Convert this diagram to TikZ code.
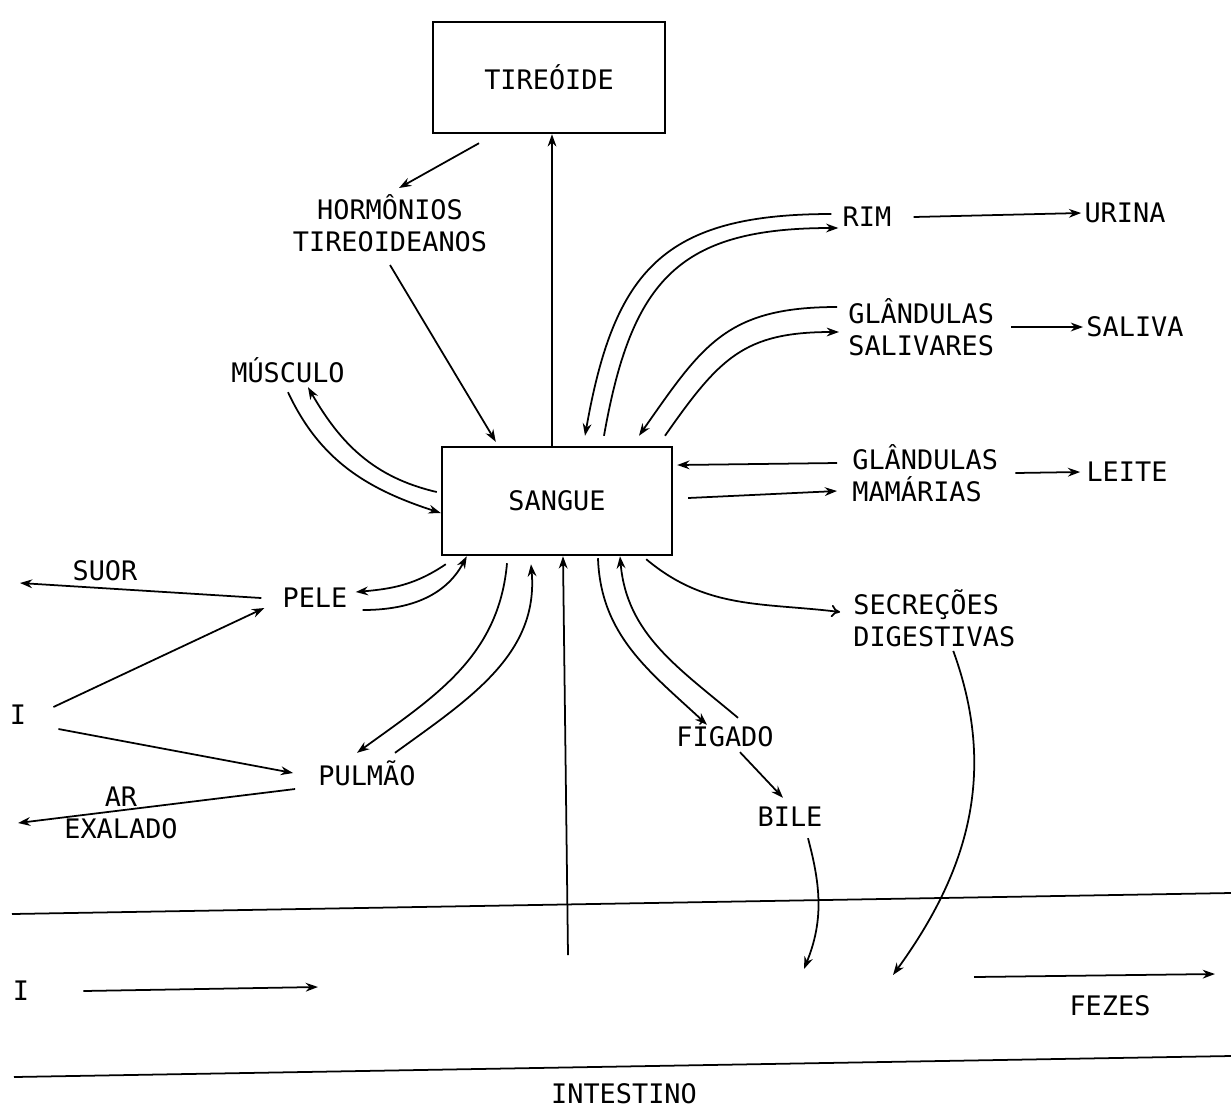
\documentclass[tikz,border=0pt]{standalone}
\usepackage{fontspec}
\setmonofont{DejaVu Sans Mono}
\usetikzlibrary{arrows.meta}
\newcommand{\labfont}{\ttfamily\fontsize{15.3}{18.2}\selectfont}

\begin{document}
\begin{tikzpicture}[
    x=0.02cm, y=-0.02cm,
    box_style/.style={rectangle, draw, line width=1.4pt, inner sep=0pt, font=\labfont},
    txt/.style={font=\labfont, inner sep=0pt, text height=11.2pt, text depth=0pt},
    txt_two/.style={font=\labfont, inner sep=0pt, align=left},
    flow/.style={-{Stealth[length=7pt,width=5pt]}, line width=1pt},
    open_flow/.style={-{To[length=5pt,width=7pt]}, line width=1pt},
    gut/.style={line width=1pt}
]
\useasboundingbox (0,0) rectangle (1231,1110);

% Orgaos
\node[box_style, minimum width=4.64cm, minimum height=2.22cm] (tireoide) at (549,77.5) {TIREÓIDE};
\node[box_style, minimum width=4.6cm, minimum height=2.16cm] (sangue) at (557,501) {SANGUE};
\node[txt_two, align=center] (horm) at (390,223) {HORMÔNIOS\\TIREOIDEANOS};
\node[txt] (musculo) at (288,373) {MÚSCULO};
\node[txt] (rim) at (867,217) {RIM};
\node[txt] (urina) at (1125,213) {URINA};
\node[txt_two, anchor=west] (saliv) at (848,327) {GLÂNDULAS\\SALIVARES};
\node[txt] (saliva) at (1135,327) {SALIVA};
\node[txt_two, anchor=west] (mama) at (852,473) {GLÂNDULAS\\MAMÁRIAS};
\node[txt] (leite) at (1127,472) {LEITE};
\node[txt_two, anchor=west] (secr) at (853,618) {SECREÇÕES\\DIGESTIVAS};
\node[txt] (figado) at (725,737) {FÍGADO};
\node[txt] (bile) at (790,817) {BILE};
\node[txt] (pele) at (315,598) {PELE};
\node[txt] (suor) at (105,571) {SUOR};
\node[txt] (pulmao) at (367,776) {PULMÃO};
\node[txt_two, align=center] (ar) at (121,813) {AR\\EXALADO};
\node[txt] (ione) at (18,715) {I};
\node[txt] (itwo) at (21,991) {I};
\node[txt] (fezes) at (1110,1006) {FEZES};
\node[txt] (intestino) at (624,1094) {INTESTINO};

% Pontas livres
\coordinate (suorfim) at (20,583);
\coordinate (arfim) at (18,823);
\coordinate (intbase) at (568,955);
\coordinate (ifim) at (318,987);
\coordinate (bilefim) at (804,969);
\coordinate (secfim) at (893,975);
\coordinate (fezini) at (974,977);
\coordinate (fezfim) at (1215,974);

% Tireoide
\draw[flow] ([xshift=-1.4cm,yshift=-0.18cm]tireoide.south) -- ([xshift=0.18cm,yshift=0.12cm]horm.north);
\draw[flow] ([yshift=-0.26cm]horm.south) -- ([xshift=1.1cm,yshift=0.08cm]sangue.north west);
\draw[flow] ([xshift=-0.1cm]sangue.north) -- ([xshift=0.06cm]tireoide.south);

% Rim
\draw[flow] ([xshift=-0.22cm,yshift=0.06cm]rim.west) to[out=180, in=80, looseness=1.3] ([xshift=0.56cm,yshift=0.2cm]sangue.north);
\draw[flow] ([xshift=0.94cm,yshift=0.2cm]sangue.north) to[out=80, in=180, looseness=1.3] ([xshift=-0.08cm,yshift=-0.22cm]rim.west);
\draw[flow] ([xshift=0.44cm]rim.east) -- ([xshift=-0.06cm]urina.west);

% Glandulas salivares
\draw[flow] ([xshift=-0.22cm,yshift=0.4cm]saliv.west) to[out=180, in=55, looseness=1.2] ([xshift=1.64cm,yshift=0.2cm]sangue.north);
\draw[flow] ([xshift=2.16cm,yshift=0.2cm]sangue.north) to[out=55, in=180, looseness=1.2] ([xshift=-0.18cm,yshift=-0.1cm]saliv.west);
\draw[flow] ([xshift=0.34cm]saliv.east) -- ([xshift=-0.06cm]saliva.west);

% Glandulas mamarias
\draw[flow] ([xshift=-0.3cm,yshift=0.2cm]mama.west) -- ([xshift=0.08cm,yshift=0.72cm]sangue.east);
\draw[flow] ([xshift=0.3cm,yshift=0.06cm]sangue.east) -- ([xshift=-0.3cm,yshift=-0.36cm]mama.west);
\draw[flow] ([xshift=0.34cm]mama.east) -- ([xshift=-0.12cm]leite.west);

% Musculo
\draw[flow] ([yshift=-0.18cm]musculo.south) to[out=-65, in=162] ([yshift=-0.24cm]sangue.west);
\draw[flow] ([xshift=-0.08cm,yshift=0.18cm]sangue.west) to[out=167, in=-60] ([xshift=0.4cm,yshift=-0.08cm]musculo.south);

% Pele
\draw[flow] ([xshift=0.1cm,yshift=-0.16cm]sangue.south west) to[out=-146, in=5] ([xshift=0.16cm,yshift=0.12cm]pele.east);
\draw[flow] ([xshift=0.3cm,yshift=-0.24cm]pele.east) to[out=0, in=-118] ([xshift=0.52cm]sangue.south west);
\draw[flow] ([xshift=-0.42cm]pele.west) -- (suorfim);
\draw[flow] ([xshift=0.54cm,yshift=0.16cm]ione.east) -- ([xshift=-0.36cm,yshift=-0.2cm]pele.west);

% Pulmao
\draw[flow] ([xshift=-1cm,yshift=-0.14cm]sangue.south) to[out=-95, in=36] ([xshift=-0.2cm,yshift=0.26cm]pulmao.north);
\draw[flow] ([xshift=0.56cm,yshift=0.26cm]pulmao.north) to[out=36, in=-85] ([xshift=-0.52cm,yshift=-0.16cm]sangue.south);
\draw[flow] ([xshift=0.64cm,yshift=-0.28cm]ione.east) -- ([xshift=-0.5cm,yshift=0.06cm]pulmao.west);
\draw[flow] ([xshift=-0.46cm,yshift=-0.26cm]pulmao.west) -- (arfim);

% Secrecoes e figado
\draw[open_flow] ([xshift=-0.54cm,yshift=-0.06cm]sangue.south east) to[out=-40, in=173] ([xshift=-0.26cm,yshift=0.12cm]secr.west);
\draw[flow] ([xshift=0.38cm,yshift=-0.08cm]secr.south) to[out=-70, in=54] (secfim);
\draw[flow] ([xshift=0.82cm,yshift=-0.04cm]sangue.south) to[out=-88, in=137] ([xshift=-0.36cm,yshift=0.04cm]figado.north);
\draw[flow] ([xshift=0.26cm,yshift=0.18cm]figado.north) to[out=140, in=-85] ([xshift=1.26cm]sangue.south);
\draw[flow] ([xshift=0.3cm,yshift=-0.1cm]figado.south) -- ([xshift=-0.14cm,yshift=0.18cm]bile.north);
\draw[flow] ([xshift=0.36cm,yshift=-0.22cm]bile.south) to[out=-75, in=68] (bilefim);

% Intestino
\draw[gut] (12,914) -- (1231,893);
\draw[gut] (14,1077) -- (1231,1056);
\draw[flow] (intbase) -- ([xshift=0.12cm]sangue.south);
\draw[flow] ([xshift=1.08cm]itwo.east) -- (ifim);
\draw[flow] (fezini) -- (fezfim);
\end{tikzpicture}
\end{document}
